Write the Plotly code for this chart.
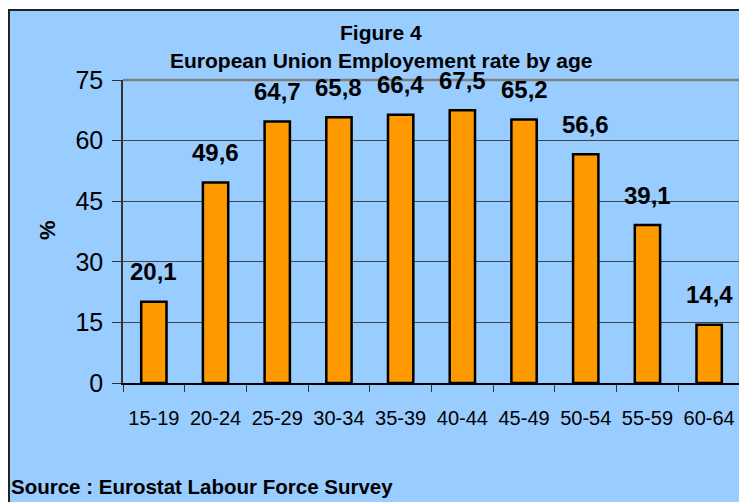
import plotly.graph_objects as go

categories = ["15-19", "20-24", "25-29", "30-34", "35-39", "40-44", "45-49", "50-54", "55-59", "60-64"]
values = [20.1, 49.6, 64.7, 65.8, 66.4, 67.5, 65.2, 56.6, 39.1, 14.4]
y_ticks = [0, 15, 30, 45, 60, 75]
title_line1 = "Figure 4"
title_line2 = "European Union Employement rate by age"
y_title = "%"
source_text = "Source : Eurostat Labour Force Survey"

# the page body has an 8px margin; the figure is sized so it lands where the reference is
OFF = 8
W, H = 747 - OFF, 502 - OFF
L, R, T, B = 123 - OFF, 7, 80 - OFF, 119
pw, ph = W - L - R, H - T - B

def px_x(x):
    return (x - OFF - L) / pw

def px_y(y):
    return (H - B - (y - OFF)) / ph

FONT = "Liberation Sans, Arial, sans-serif"

fig = go.Figure()
fig.add_trace(go.Bar(
    x=categories, y=values,
    width=0.41,
    marker=dict(color="#FF9900", line=dict(color="#000000", width=2.5)),
    hoverinfo="x+y",
))

annotations = []
for c, v in zip(categories, values):
    annotations.append(dict(
        x=c, y=v, xref="x", yref="y", text=f"{v:.1f}".replace(".", ","),
        showarrow=False, yshift=30, yanchor="middle",
        font=dict(family=FONT, size=24, color="#000000", weight="bold"),
    ))

annotations += [
    dict(x=px_x(381), y=px_y(32), xref="paper", yref="paper", text=f"<b>{title_line1}</b>",
         showarrow=False, xanchor="center", yanchor="middle",
         font=dict(family=FONT, size=21, color="#000000")),
    dict(x=px_x(381), y=px_y(60), xref="paper", yref="paper", text=f"<b>{title_line2}</b>",
         showarrow=False, xanchor="center", yanchor="middle",
         font=dict(family=FONT, size=21, color="#000000")),
    dict(x=px_x(47), y=px_y(230), xref="paper", yref="paper", text=f"<b>{y_title}</b>",
         showarrow=False, xanchor="center", yanchor="middle", textangle=-90,
         font=dict(family=FONT, size=22, color="#000000")),
    dict(x=px_x(9), y=px_y(486), xref="paper", yref="paper", text=f"<b>{source_text}</b>",
         showarrow=False, xanchor="left", yanchor="middle",
         font=dict(family=FONT, size=20.5, color="#000000")),
]

shapes = [
    # outer blue panel with dark border
    dict(type="rect", xref="paper", yref="paper",
         x0=px_x(OFF + 1), x1=px_x(770), y0=px_y(540), y1=px_y(10),
         fillcolor="#99CCFF", line=dict(color="#222222", width=2), layer="below"),
    # gray top / right plot border
    dict(type="line", xref="paper", yref="paper", x0=0, x1=1, y0=1, y1=1,
         line=dict(color="#808080", width=2.5), layer="above"),
    dict(type="line", xref="paper", yref="paper", x0=1, x1=1, y0=0, y1=1,
         line=dict(color="#808080", width=2.5), layer="above"),
]

fig.update_layout(
    width=W, height=H,
    margin=dict(l=L, r=R, t=T, b=B, pad=0),
    paper_bgcolor="#FFFFFF",
    plot_bgcolor="#FCF0DC",
    showlegend=False,
    annotations=annotations,
    shapes=shapes,
    font=dict(family=FONT, color="#000000"),
)

fig.update_xaxes(
    type="category",
    tickson="boundaries",
    ticks="outside", ticklen=7, tickcolor="#333333", tickwidth=1,
    showline=True, linecolor="#000000", linewidth=1.5,
    showgrid=False,
    tickfont=dict(family=FONT, size=20, color="#000000"),
    ticklabelstandoff=16,
)

fig.update_yaxes(
    range=[0, 75],
    tickvals=y_ticks,
    ticktext=[str(t) for t in y_ticks],
    ticks="outside", ticklen=9, tickcolor="#333333", tickwidth=1,
    showline=True, linecolor="#333333", linewidth=1.5,
    showgrid=True, gridcolor="#444444", gridwidth=1,
    zeroline=False,
    tickfont=dict(family=FONT, size=25, color="#000000"),
    ticklabelstandoff=4,
)

fig.write_html("out.html")
